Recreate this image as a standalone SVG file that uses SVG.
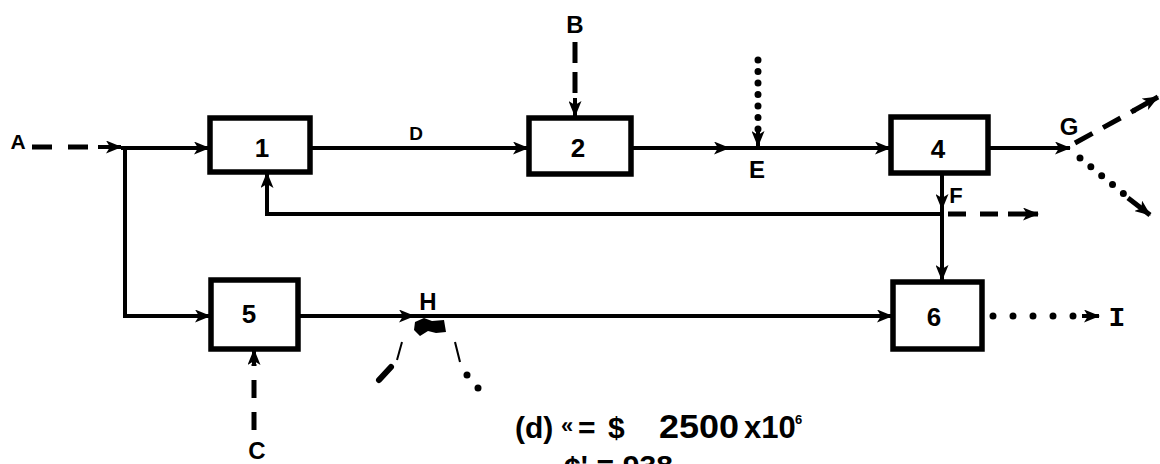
<svg xmlns="http://www.w3.org/2000/svg" width="1160" height="464" viewBox="0 0 1160 464">
<style>
.box{fill:#fff;stroke:#000;stroke-width:5.5}
.ln{fill:none;stroke:#000;stroke-width:4}
.dash{fill:none;stroke:#000;stroke-width:5;stroke-dasharray:18 14}
.dot{fill:none;stroke:#000;stroke-width:7;stroke-linecap:round;stroke-dasharray:0 18}
.lbl{font-family:"Liberation Sans",Arial,sans-serif;font-weight:bold;font-size:24px;fill:#000;text-anchor:middle}
.num{font-family:"Liberation Sans",Arial,sans-serif;font-weight:bold;font-size:26px;fill:#000;text-anchor:middle}
.eq{font-family:"Liberation Sans",Arial,sans-serif;font-weight:bold;font-size:30px;fill:#000}
</style>
<defs>
<marker id="ah" viewBox="0 0 16 13" refX="15" refY="6.5" markerWidth="16" markerHeight="13" markerUnits="userSpaceOnUse" orient="auto">
<path d="M0,0 L16,6.5 L0,13 L4,6.5 Z" fill="#000"/>
</marker>
</defs>
<g id="connectors">
<line class="dash" x1="32" y1="147" x2="102" y2="147" style="stroke-dasharray:20 16"/>
<line class="ln" x1="98" y1="147" x2="121" y2="147" marker-end="url(#ah)"/>
<line class="ln" x1="121" y1="148" x2="209" y2="148" marker-end="url(#ah)"/>
<polyline class="ln" points="125,148 125,316 210,316" marker-end="url(#ah)"/>
<line class="ln" x1="310" y1="148" x2="528" y2="148" marker-end="url(#ah)"/>
<line class="dash" x1="575" y1="42" x2="575" y2="102" style="stroke-dasharray:21 9"/>
<line class="ln" x1="575" y1="98" x2="575" y2="116" marker-end="url(#ah)"/>
<line class="ln" x1="631" y1="148" x2="729" y2="148" marker-end="url(#ah)"/>
<line class="ln" x1="728" y1="148" x2="890" y2="148" marker-end="url(#ah)"/>
<line class="dot" x1="758" y1="60" x2="758" y2="130" style="stroke-dasharray:0 11.5"/>
<line class="ln" x1="758" y1="128" x2="758" y2="146" marker-end="url(#ah)"/>
<line class="ln" x1="988" y1="148" x2="1070" y2="148" marker-end="url(#ah)"/>
<line class="dash" x1="1075" y1="143" x2="1135" y2="110" style="stroke-dasharray:20 12"/>
<line class="ln" x1="1133" y1="111" x2="1158" y2="97" marker-end="url(#ah)" style="stroke-width:5"/>
<line class="dot" x1="1080" y1="158" x2="1124" y2="194" style="stroke-dasharray:0 14"/>
<line class="ln" x1="1128" y1="198" x2="1150" y2="215" marker-end="url(#ah)" style="stroke-width:5"/>
<line class="ln" x1="942" y1="173" x2="942" y2="209" marker-end="url(#ah)"/>
<line class="ln" x1="942" y1="209" x2="942" y2="280" marker-end="url(#ah)"/>
<polyline class="ln" points="942,214 267,214 267,173" marker-end="url(#ah)"/>
<line class="dash" x1="948" y1="214" x2="1010" y2="214"/>
<line class="ln" x1="1008" y1="214" x2="1038" y2="214" marker-end="url(#ah)" style="stroke-width:5"/>
<line class="ln" x1="298" y1="316" x2="414" y2="316" marker-end="url(#ah)"/>
<line class="ln" x1="414" y1="316" x2="892" y2="316" marker-end="url(#ah)"/>
<line class="dash" x1="254" y1="430" x2="254" y2="364" style="stroke-dasharray:18 14"/>
<line class="ln" x1="254" y1="366" x2="254" y2="350" marker-end="url(#ah)"/>
<line class="dot" x1="993" y1="316" x2="1082" y2="316" style="stroke-dasharray:0 20"/>
<line class="ln" x1="1082" y1="316" x2="1099" y2="316" marker-end="url(#ah)"/>
<line class="ln" x1="402" y1="342" x2="397" y2="360" style="stroke-width:2"/>
<line class="ln" x1="379" y1="380" x2="391" y2="367" style="stroke-width:6;stroke-linecap:round"/>
<line class="ln" x1="455" y1="342" x2="460" y2="362" style="stroke-width:2"/>
<circle cx="467" cy="375" r="3.5"/>
<circle cx="478" cy="388" r="3.5"/>
<path d="M415,322 L424,318 L432,321 L444,320 L446,332 L436,333 L428,331 L420,336 L414,330 Z" fill="#000"/>
</g>
<g id="node1"><rect class="box" x="210" y="118" width="100" height="54"/><text class="num" x="262" y="157">1</text></g>
<g id="node2"><rect class="box" x="529" y="118" width="102" height="56"/><text class="num" x="578" y="157">2</text></g>
<g id="node4"><rect class="box" x="891" y="117" width="97" height="56"/><text class="num" x="938" y="158">4</text></g>
<g id="node5"><rect class="box" x="211" y="280" width="87" height="69"/><text class="num" x="249" y="323">5</text></g>
<g id="node6"><rect class="box" x="893" y="282" width="89" height="67"/><text class="num" x="934" y="326">6</text></g>
<g id="labels">
<text class="lbl" x="18" y="149" style="font-size:21px">A</text>
<text class="lbl" x="575" y="33">B</text>
<text class="lbl" x="257" y="459">C</text>
<text class="lbl" x="416" y="140" style="font-size:19px">D</text>
<text class="lbl" x="757" y="178">E</text>
<text class="lbl" x="956" y="203" style="font-size:22px">F</text>
<text class="lbl" x="1069" y="135">G</text>
<text class="lbl" x="428" y="310">H</text>
<text class="lbl" x="1117" y="326" style="font-family:'Liberation Mono',monospace;font-size:28px">I</text>
<text class="eq" x="515" y="438">(d)</text>
<text class="eq" x="561" y="433" style="font-size:22px">«</text>
<text class="eq" x="578" y="438">=</text>
<text class="eq" x="608" y="438">$</text>
<text class="eq" x="659" y="438" style="font-size:33px" textLength="80" lengthAdjust="spacingAndGlyphs">2500</text>
<text class="eq" x="744" y="438" style="font-size:31px">x10</text>
<text class="eq" x="795" y="424" style="font-size:13px">6</text>
<text class="eq" x="564" y="476" textLength="109" lengthAdjust="spacing">¢' = 938</text>
</g>
</svg>
